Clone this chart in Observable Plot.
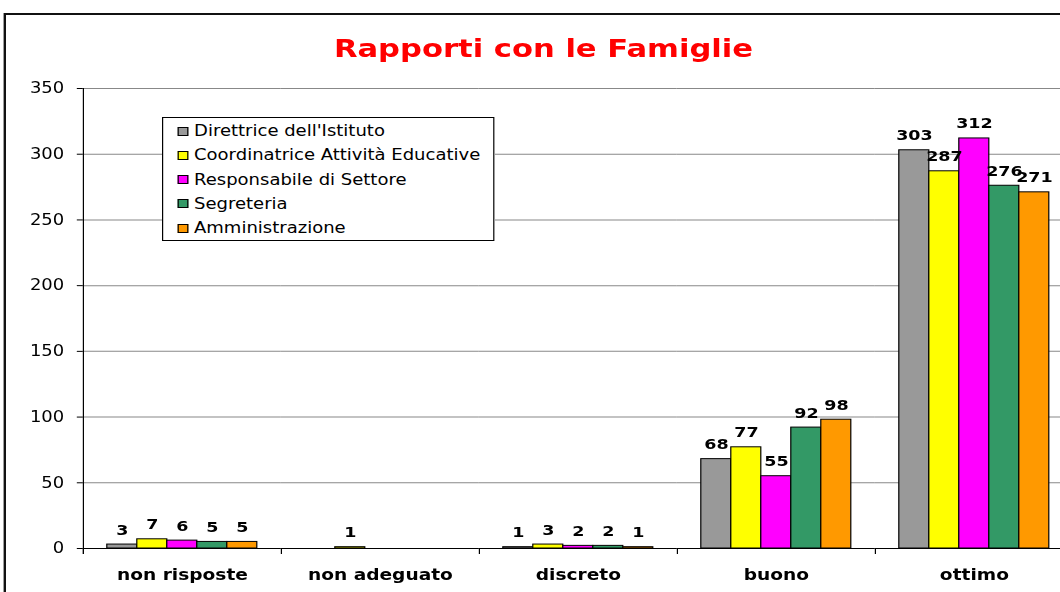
<!DOCTYPE html>
<html><head><meta charset="utf-8">
<script src="https://cdn.jsdelivr.net/npm/d3@7"></script>
<script src="https://cdn.jsdelivr.net/npm/@observablehq/plot@0.6"></script>
<style>
html,body{margin:0;padding:0;background:#fff;overflow:hidden;}
#stage{position:relative;width:884px;height:592px;transform:scaleX(1.2);transform-origin:0 0;font-family:"DejaVu Sans",Verdana,sans-serif;}
#chart{position:absolute;left:0;top:0;}
#border{position:absolute;left:3.3px;top:13px;width:1000px;height:700px;border:2px solid #111;}
#title{position:absolute;left:452.9px;top:33.2px;transform:translateX(-50%);white-space:nowrap;font-size:25.5px;line-height:30px;font-weight:bold;color:#FF0000;}
#legend{position:absolute;left:135px;top:117px;width:277px;height:124px;box-sizing:border-box;border:1px solid #000;background:#fff;padding-top:1px;}
.row{display:flex;align-items:center;height:24.25px;font-size:15px;color:#000;white-space:nowrap;}
.sw{width:9px;height:9px;box-sizing:border-box;border:1px solid #000;margin-left:12px;margin-right:4.7px;}
</style></head><body>
<div id="stage"><div id="chart"></div><div id="border"></div><div id="title">Rapporti con le Famiglie</div><div id="legend"></div></div>
<script>
const categories = ["non risposte","non adeguato","discreto","buono","ottimo"];
const series = ["Direttrice dell'Istituto","Coordinatrice Attività Educative","Responsabile di Settore","Segreteria","Amministrazione"];
const colors = ["#999999","#FFFF00","#FF00FF","#339966","#FF9900"];
const direttrice      = [3, 0, 1, 68, 303];
const coordinatrice   = [7, 1, 3, 77, 287];
const responsabile    = [6, 0, 2, 55, 312];
const segreteria      = [5, 0, 2, 92, 276];
const amministrazione = [5, 0, 1, 98, 271];
const yTicks = [0, 50, 100, 150, 200, 250, 300, 350];

const seriesValues = [direttrice, coordinatrice, responsabile, segreteria, amministrazione];
const data = [];
categories.forEach((c, i) => series.forEach((s, j) => data.push({category: c, series: s, value: seriesValues[j][i]})));
const shown = data.filter(d => d.value > 0);

const plot = Plot.plot({
  width: 894, height: 592,
  marginLeft: 69, marginRight: 0, marginTop: 88, marginBottom: 44,
  style: {background: "none", fontFamily: "DejaVu Sans, Verdana, sans-serif", maxWidth: "none", overflow: "visible"},
  fx: {domain: categories, padding: 0, label: null},
  x: {domain: series, paddingInner: 0, paddingOuter: 0.75, axis: null},
  y: {domain: [0, 350]},
  color: {domain: series, range: colors},
  marks: [
    Plot.gridY(yTicks.slice(1), {stroke: "#888", strokeOpacity: 1}),
    Plot.barY(shown, {fx: "category", x: "series", y: "value", fill: "series", stroke: "#000", strokeWidth: 1}),
    Plot.ruleY([0], {stroke: "#000"}),
    Plot.frame({anchor: "left", insetTop: 460, insetBottom: -5, stroke: "#000"}),
    Plot.frame({anchor: "left", insetBottom: -5, stroke: "#000", facetAnchor: "left"}),
    Plot.axisY(yTicks, {tickSize: 5, tickPadding: 11, fontSize: 15, label: null}),
    Plot.axisFx({anchor: "bottom", tickSize: 0, tickPadding: 20, fontSize: 15.5, fontWeight: "bold", label: null}),
    Plot.text(shown, {fx: "category", x: "series", y: "value", text: "value", lineAnchor: "bottom", dy: -10, fontSize: 14.6, fontWeight: "bold", fill: "#000"})
  ]
});
document.getElementById("chart").appendChild(plot);

const legend = document.getElementById("legend");
series.forEach((s, i) => {
  const row = document.createElement("div");
  row.className = "row";
  const sw = document.createElement("div");
  sw.className = "sw";
  sw.style.background = colors[i];
  const t = document.createElement("span");
  t.textContent = s;
  row.appendChild(sw); row.appendChild(t);
  legend.appendChild(row);
});
</script>
</body></html>
